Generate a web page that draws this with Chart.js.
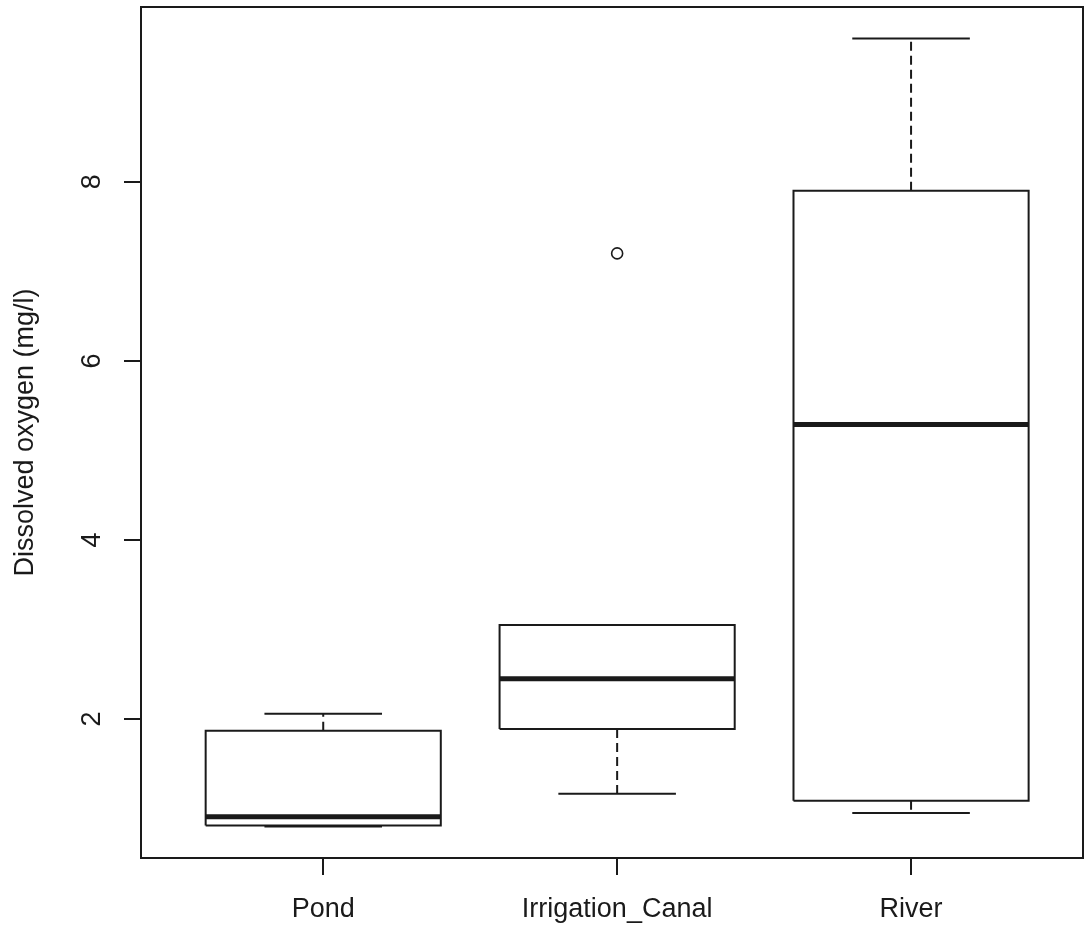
<!DOCTYPE html>
<html><head><meta charset="utf-8">
<script src="https://cdn.jsdelivr.net/npm/chart.js@4.4.1/dist/chart.umd.min.js"></script>
<style>html,body{margin:0;padding:0;background:#fff;overflow:hidden}</style>
</head><body>
<canvas id="c" width="1086" height="928"></canvas>
<script>
// ---- data ----
const categories = ['Pond', 'Irrigation_Canal', 'River'];
const whiskerLow  = [0.80, 1.165, 0.95];
const q1          = [0.81, 1.89, 1.087];
const median      = [0.91, 2.45, 5.29];
const q3          = [1.87, 3.05, 7.90];
const whiskerHigh = [2.06, 3.05, 9.60];
const outlierCategory = [2];
const outlierValue    = [7.20];
const yTicks = [2, 4, 6, 8];
const yTitle = 'Dissolved oxygen (mg/l)';

// ---- styling ----
const INK = '#1a1a1a';
const FONT = { family: "'Liberation Sans', Arial, sans-serif", size: 27 };
const BOX_HALF = 0.4, CAP_HALF = 0.2;

const lineDs = (data, width, dash) => ({
  data, showLine: true, borderColor: INK, borderWidth: width, borderDash: dash || [],
  pointRadius: 0, pointHoverRadius: 0, tension: 0, fill: false, spanGaps: false
});
const GAP = { x: null, y: null };

const datasets = [];
categories.forEach((c, i) => {
  const x = i + 1;
  datasets.push(lineDs([{x, y: q3[i]}, {x, y: whiskerHigh[i]}, GAP, {x, y: q1[i]}, {x, y: whiskerLow[i]}], 2, [9, 5]));
  datasets.push(lineDs([{x: x - CAP_HALF, y: whiskerHigh[i]}, {x: x + CAP_HALF, y: whiskerHigh[i]}, GAP,
                        {x: x - CAP_HALF, y: whiskerLow[i]}, {x: x + CAP_HALF, y: whiskerLow[i]}], 2));
  datasets.push(lineDs([{x: x - BOX_HALF, y: q1[i]}, {x: x + BOX_HALF, y: q1[i]}, {x: x + BOX_HALF, y: q3[i]},
                        {x: x - BOX_HALF, y: q3[i]}, {x: x - BOX_HALF, y: q1[i]}], 2));
  datasets.push(lineDs([{x: x - BOX_HALF, y: median[i]}, {x: x + BOX_HALF, y: median[i]}], 5));
});
datasets.push({
  data: outlierCategory.map((c, k) => ({ x: c, y: outlierValue[k] })),
  showLine: false, pointStyle: 'circle', pointRadius: 5.5, pointBorderWidth: 1.6,
  pointBackgroundColor: '#fff', pointBorderColor: INK
});

const frame = {
  id: 'frame',
  afterDatasetsDraw(chart) {
    const { ctx, chartArea: a } = chart;
    ctx.save();
    ctx.strokeStyle = INK; ctx.lineWidth = 2;
    ctx.strokeRect(a.left, a.top, a.right - a.left, a.bottom - a.top);
    ctx.restore();
  }
};

new Chart(document.getElementById('c'), {
  type: 'scatter',
  data: { datasets },
  plugins: [frame],
  options: {
    responsive: false, animation: false, devicePixelRatio: 1,
    layout: { autoPadding: false, padding: { top: 7, right: 3, left: 0, bottom: 0 } },
    plugins: { legend: { display: false }, tooltip: { enabled: false } },
    scales: {
      x: {
        type: 'linear', min: 0.38, max: 3.585,
        afterBuildTicks: s => { s.ticks = categories.map((c, i) => ({ value: i + 1 })); },
        ticks: { callback: (v, i) => categories[i], padding: 18, maxRotation: 0, minRotation: 0, autoSkip: false, font: FONT, color: INK },
        grid: { drawOnChartArea: false, drawTicks: true, tickLength: 17, lineWidth: 2, color: INK },
        border: { display: false },
        afterFit: s => { s.height = 70; s.paddingLeft = 0; s.paddingRight = 0; }
      },
      y: {
        type: 'linear', min: 0.448, max: 9.952,
        afterBuildTicks: s => { s.ticks = yTicks.map(v => ({ value: v })); },
        ticks: { callback: v => String(v), minRotation: 90, maxRotation: 90, crossAlign: 'center', padding: 24, autoSkip: false, font: FONT, color: INK },
        grid: { drawOnChartArea: false, drawTicks: true, tickLength: 17, lineWidth: 2, color: INK },
        border: { display: false },
        title: { display: true, text: yTitle, font: FONT, color: INK, padding: { top: 9, bottom: 0 } },
        afterFit: s => { s.width = 141; s.paddingTop = 0; s.paddingBottom = 0; }
      }
    }
  }
});
</script>
</body></html>
